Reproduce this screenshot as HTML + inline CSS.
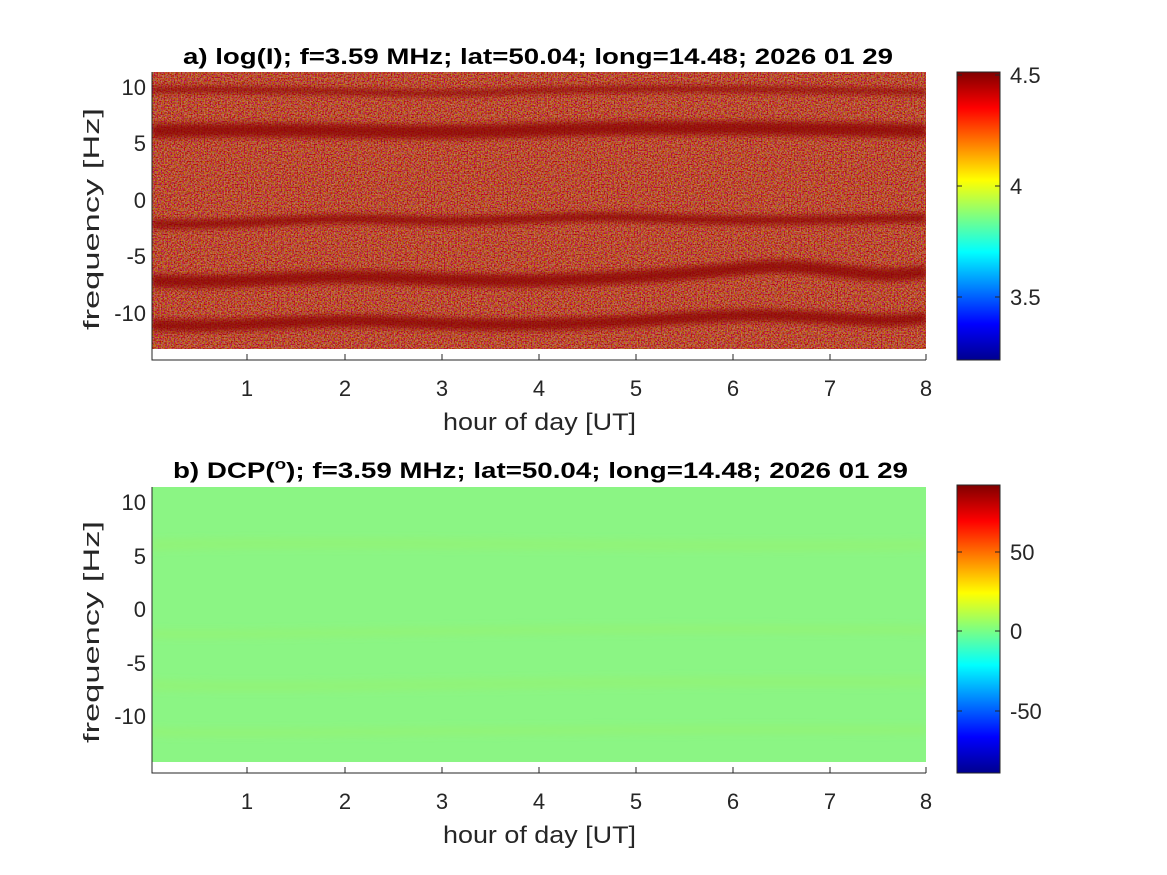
<!DOCTYPE html>
<html><head><meta charset="utf-8"><style>body{margin:0;background:#fff}svg{display:block}text{font-family:"Liberation Sans",Arial,sans-serif}</style></head><body>
<svg width="1167" height="875" viewBox="0 0 1167 875" xmlns="http://www.w3.org/2000/svg">
<defs>
<linearGradient id="jet" x1="0" y1="0" x2="0" y2="1">
<stop offset="0" stop-color="#800000"/><stop offset="0.125" stop-color="#ff0000"/><stop offset="0.375" stop-color="#ffff00"/><stop offset="0.625" stop-color="#00ffff"/><stop offset="0.875" stop-color="#0000ff"/><stop offset="1" stop-color="#00008f"/></linearGradient>
<filter id="nA" x="0" y="0" width="1" height="1"><feTurbulence type="fractalNoise" baseFrequency="0.7" numOctaves="1" seed="3"/><feColorMatrix values="1.6 0 0 0 -0.15  0 2.0 0 0 -0.8  0 0 1.4 0 -0.6  0 0 0 0 0.55"/></filter>
<filter id="nB" x="0" y="0" width="1" height="1"><feTurbulence type="fractalNoise" baseFrequency="0.8" numOctaves="1" seed="5"/><feColorMatrix values="0 0 0 0 0.55  0 0 0 0 1  0 0 0 0 0.6  0 0 0 0 0.08"/></filter>
<filter id="bl"><feGaussianBlur stdDeviation="3"/></filter>
<clipPath id="ca"><rect x="152" y="72" width="774" height="277"/></clipPath>
<clipPath id="cb"><rect x="152" y="487" width="774" height="275"/></clipPath>
</defs>
<g clip-path="url(#ca)">
<rect x="152" y="72" width="774" height="277" fill="#9c2010"/>
<rect x="152" y="72" width="774" height="277" filter="url(#nA)"/>
<g fill="none" stroke="#8a0000" stroke-opacity="0.75" filter="url(#bl)">
<path d="M152 90 C300 88 400 96 500 92 S700 88 926 92" stroke-width="6"/>
<path d="M152 131 C300 128 400 134 500 131 S700 126 926 131" stroke-width="14"/>
<path d="M152 224 C250 226 300 216 400 220 S550 214 650 218 S800 220 926 218" stroke-width="9"/>
<path d="M152 281 C250 284 300 274 400 278 S550 282 650 276 S760 262 830 270 S900 274 926 272" stroke-width="13"/>
<path d="M152 325 C250 328 300 318 400 322 S550 326 650 320 S760 314 830 318 S900 320 926 318" stroke-width="12"/>
</g>
</g>
<path d="M152 72V360H926" fill="none" stroke="#262626" stroke-width="1"/>
<g stroke="#262626"><path d="M247 360v-6M345 360v-6M442 360v-6M539 360v-6M636 360v-6M733 360v-6M830 360v-6M926 360v-6"/></g>
<g font-size="22" fill="#262626" text-anchor="middle">
<text x="247" y="396">1</text><text x="345" y="396">2</text><text x="442" y="396">3</text><text x="539" y="396">4</text><text x="636" y="396">5</text><text x="733" y="396">6</text><text x="830" y="396">7</text><text x="926" y="396">8</text>
</g>
<text x="443" y="430" font-size="24" fill="#262626" textLength="193" lengthAdjust="spacingAndGlyphs">hour of day [UT]</text>
<g font-size="22" fill="#262626" text-anchor="end">
<text x="146" y="95">10</text><text x="146" y="151">5</text><text x="146" y="208">0</text><text x="146" y="264">-5</text><text x="146" y="321">-10</text>
</g>
<text transform="translate(99,330) rotate(-90)" font-size="22" fill="#262626" textLength="222" lengthAdjust="spacingAndGlyphs">frequency [Hz]</text>
<text x="183" y="64" font-size="22" font-weight="bold" fill="#000" textLength="710" lengthAdjust="spacingAndGlyphs">a) log(I); f=3.59 MHz;  lat=50.04; long=14.48; 2026 01 29</text>
<rect x="957" y="72" width="43" height="288" fill="url(#jet)" stroke="#262626"/>
<g stroke="#262626"><path d="M1000 75h-5M1000 186h-5M1000 297h-5M957 75h5M957 186h5M957 297h5"/></g>
<g font-size="22" fill="#262626"><text x="1010" y="83">4.5</text><text x="1010" y="194">4</text><text x="1010" y="305">3.5</text></g>
<g clip-path="url(#cb)">
<rect x="152" y="487" width="774" height="275" fill="#86f47e"/>
<rect x="152" y="487" width="774" height="275" filter="url(#nB)"/>
<g fill="none" stroke="#9cf066" stroke-opacity="0.35" filter="url(#bl)">
<path d="M152 545 C400 540 600 548 926 545" stroke-width="12"/>
<path d="M152 634 C300 636 500 626 926 630" stroke-width="10"/>
<path d="M152 685 C300 690 500 680 926 682" stroke-width="12"/>
<path d="M152 732 C300 735 500 728 926 730" stroke-width="10"/>
</g>
</g>
<path d="M152 487V773H926" fill="none" stroke="#262626" stroke-width="1"/>
<g stroke="#262626"><path d="M247 773v-6M345 773v-6M442 773v-6M539 773v-6M636 773v-6M733 773v-6M830 773v-6M926 773v-6"/></g>
<g font-size="22" fill="#262626" text-anchor="middle">
<text x="247" y="809">1</text><text x="345" y="809">2</text><text x="442" y="809">3</text><text x="539" y="809">4</text><text x="636" y="809">5</text><text x="733" y="809">6</text><text x="830" y="809">7</text><text x="926" y="809">8</text>
</g>
<text x="443" y="843" font-size="24" fill="#262626" textLength="193" lengthAdjust="spacingAndGlyphs">hour of day [UT]</text>
<g font-size="22" fill="#262626" text-anchor="end">
<text x="146" y="510">10</text><text x="146" y="564">5</text><text x="146" y="617">0</text><text x="146" y="671">-5</text><text x="146" y="724">-10</text>
</g>
<text transform="translate(99,743) rotate(-90)" font-size="22" fill="#262626" textLength="222" lengthAdjust="spacingAndGlyphs">frequency [Hz]</text>
<text x="173" y="478" font-size="22" font-weight="bold" fill="#000" textLength="735" lengthAdjust="spacingAndGlyphs">b) DCP(<tspan font-size="15" dy="-9">o</tspan><tspan dy="9">); f=3.59 MHz;  lat=50.04; long=14.48; 2026 01 29</tspan></text>
<rect x="957" y="485" width="43" height="288" fill="url(#jet)" stroke="#262626"/>
<g stroke="#262626"><path d="M1000 552h-5M1000 631h-5M1000 711h-5M957 552h5M957 631h5M957 711h5"/></g>
<g font-size="22" fill="#262626"><text x="1010" y="560">50</text><text x="1010" y="639">0</text><text x="1010" y="719">-50</text></g>
</svg>
</body></html>
